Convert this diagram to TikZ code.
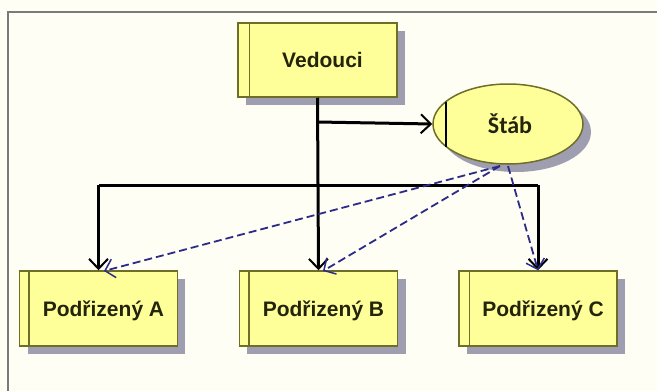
\documentclass[tikz,border=0pt]{standalone}
\usepackage{fontspec}
\setmainfont{Liberation Sans}
\newfontfamily\stabfont{Carlito}
\usetikzlibrary{arrows.meta,shapes.geometric,calc}
\definecolor{boxfill}{HTML}{FFFF99}
\definecolor{boxline}{HTML}{6E6E28}
\definecolor{shadowc}{HTML}{9E9EB0}
\definecolor{textc}{HTML}{24240C}
\definecolor{dashc}{HTML}{2C2C88}
\definecolor{framec}{HTML}{7A7A7A}
\tikzset{
  unitbox/.style={rectangle, draw=boxline, line width=1.5pt, fill=boxfill,
    minimum width=158pt, minimum height=75pt, inner sep=0pt,
    font=\fontsize{21}{24}\selectfont\bfseries, text=textc, text depth=0pt},
  staffell/.style={ellipse, draw=boxline, line width=1.5pt, fill=boxfill,
    minimum width=150pt, minimum height=80pt, inner sep=0pt,
    font=\stabfont\fontsize{24}{26}\selectfont\bfseries, text=textc},
  solidcon/.style={draw=black, line width=3pt, -{Straight Barb[length=10pt,width=19pt,line width=2pt]}},
  solidseg/.style={draw=black, line width=3pt},
  dashcon/.style={draw=dashc, line width=1.8pt, dash pattern=on 8pt off 4pt,
    -{Straight Barb[length=9pt,width=19pt,line width=1.5pt]}},
  bandline/.style={draw=boxline, line width=1.5pt},
}
\begin{document}
\begin{tikzpicture}[x=1pt,y=-1pt]
\useasboundingbox (0,0) rectangle (657,391);
\fill[white!96!yellow] (0,0) rectangle (657,391);
\draw[framec, line width=2.2pt] (8,391) -- (8,12) -- (657,12);

% shadows
\fill[shadowc] (246,31) rectangle (405,105);
\fill[shadowc] (516,132) ellipse [x radius=75, y radius=40];
\fill[shadowc] (28,279) rectangle (185,354);
\fill[shadowc] (247,279) rectangle (406,354);
\fill[shadowc] (467,279) rectangle (625,354);

% nodes
\node[unitbox, minimum width=159pt, minimum height=74pt] (ved) at (317.5,60) {\hspace*{10pt}Vedouci};
\node[staffell] (stab) at (508,124) {\hspace*{4pt}Štáb};
\node[unitbox] (a) at (98.5,308.5) {\hspace*{10pt}Podřizený A};
\node[unitbox] (b) at (318.5,308.5) {\hspace*{10pt}Podřizený B};
\node[unitbox] (c) at (538,308.5) {\hspace*{10pt}Podřizený C};

% inner bands
\draw[bandline] ($(ved.north west)+(12,0)$) -- ($(ved.south west)+(12,0)$);
\draw[bandline] ($(a.north west)+(10,0)$) -- ($(a.south west)+(10,0)$);
\draw[bandline] ($(b.north west)+(10,0)$) -- ($(b.south west)+(10,0)$);
\draw[bandline] ($(c.north west)+(11,0)$) -- ($(c.south west)+(11,0)$);
\draw[black, line width=1.2pt] (446,101.5) -- (446,146.5);

% coordinates
\coordinate (tap) at (317.5,122);
\coordinate (bus) at (317.5,185);
\coordinate (busl) at (98.5,185);
\coordinate (busr) at (538,185);
\coordinate (ds1) at (500,166);
\coordinate (ds2) at (508,166);
\coordinate (ta) at (104,271);
\coordinate (tb) at (323,271);

% solid connectors
\draw[solidcon] (ved.south) -- (b.north);
\draw[solidcon] (tap) -- (stab.west);
\draw[solidseg] (bus) -- (busl);
\draw[solidcon] (busl) -- (a.north);
\draw[solidseg] (bus) -- (busr);
\draw[solidcon] (busr) -- (c.north);

% dashed connectors
\draw[dashcon] (ds1) -- (ta);
\draw[dashcon] (ds1) -- (tb);
\draw[dashcon] (ds2) -- (c.north);
\end{tikzpicture}
\end{document}
